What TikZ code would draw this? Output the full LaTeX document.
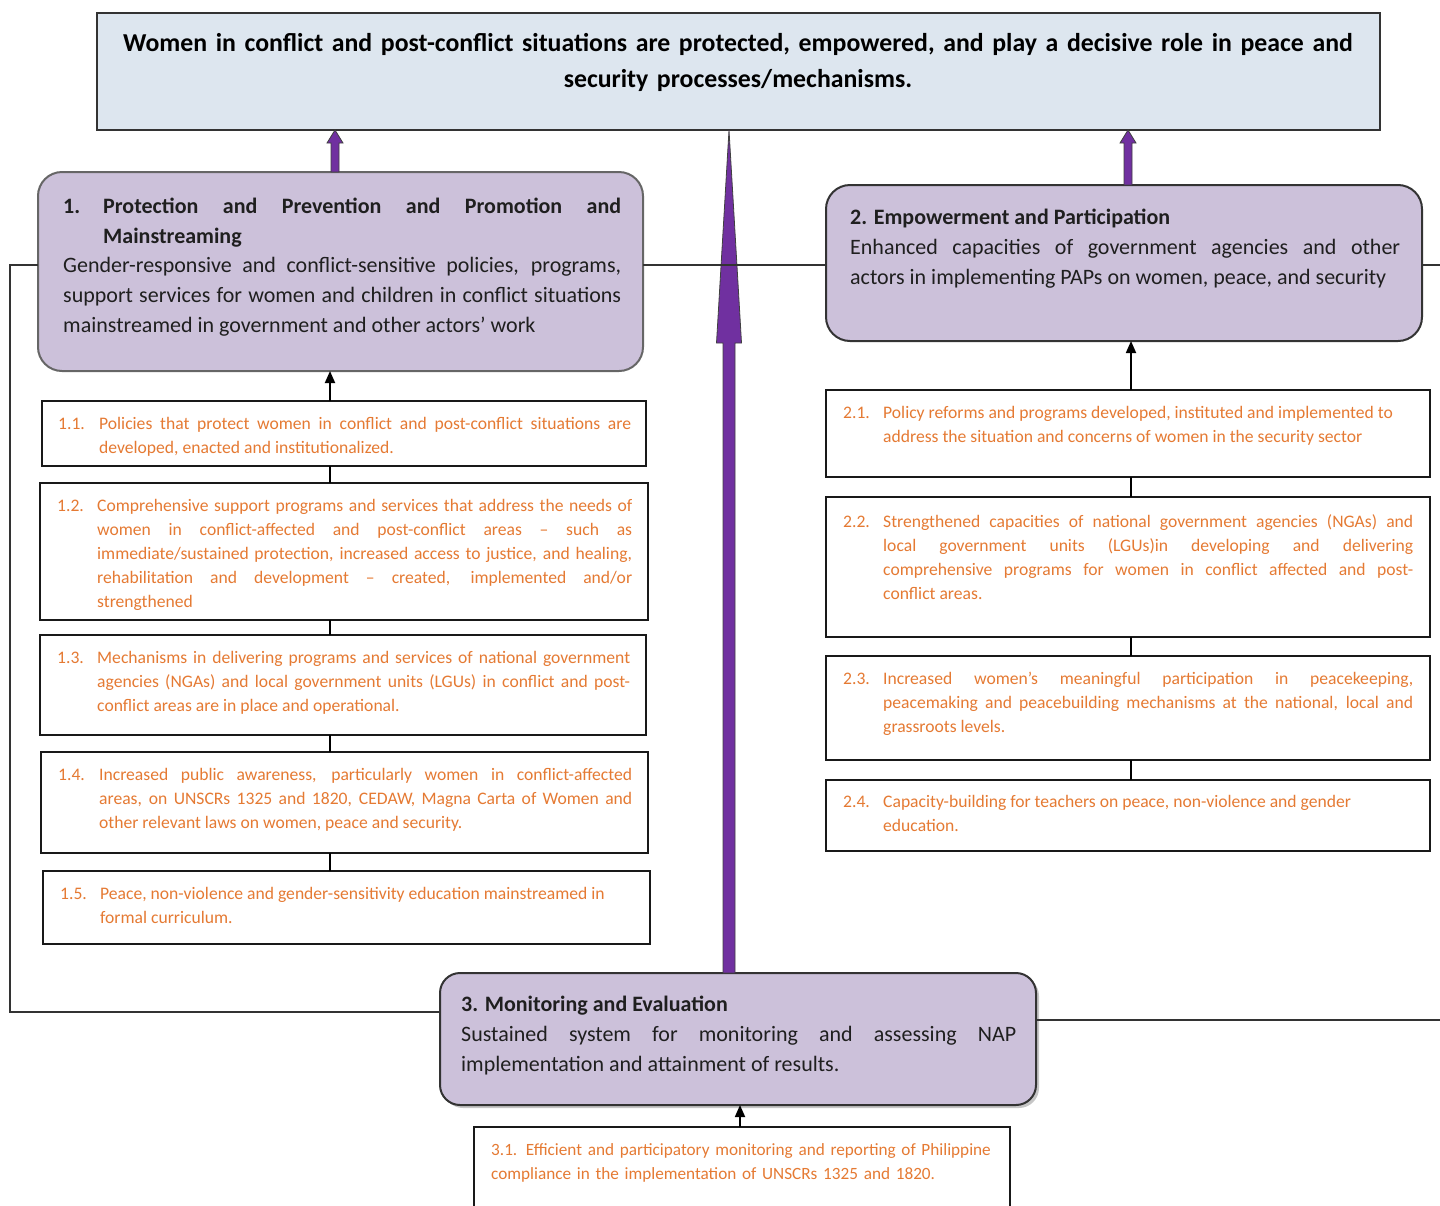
\documentclass[tikz,border=0pt]{standalone}
\usepackage{fontspec}
\setmainfont{Carlito}
\usetikzlibrary{calc,arrows.meta,shadows}
\definecolor{titlefill}{HTML}{DDE6EF}
\definecolor{lav}{HTML}{CCC1DA}
\definecolor{orng}{HTML}{E57A33}
\definecolor{purp}{HTML}{7030A0}
\definecolor{edge}{HTML}{333333}
\newcommand\hangitem[4]{\makebox[#2pt][l]{#1}\parbox[t]{#3pt}{#4}}
\newcommand\purplearrow[5]{\filldraw[fatarr] ($(#1)+(-#3,0)$) -- ($(#2)+(-#3,#5)$) -- ($(#2)+(-#4,#5)$) -- (#2) -- ($(#2)+(#4,#5)$) -- ($(#2)+(#3,#5)$) -- ($(#1)+(#3,0)$) -- cycle;}
\tikzset{
  titlebox/.style={draw=edge, line width=2pt, fill=titlefill, anchor=north west, inner sep=0pt, outer sep=0pt},
  goalbox/.style={draw=edge, line width=2pt, fill=lav, rounded corners=24pt, anchor=north west, inner sep=0pt, outer sep=0pt},
  subbox/.style={draw=black!90, line width=2.6pt, fill=white, anchor=north west, inner sep=0pt, outer sep=0pt},
  maintext/.style={anchor=base west, inner sep=0pt, align=justify, text=black!88, font=\fontsize{22}{30}\selectfont},
  subtext/.style={anchor=base west, inner sep=0pt, text=orng, font=\fontsize{17.6}{24.2}\selectfont},
  fatarr/.style={fill=purp, draw=black!75, line width=0.8pt},
  thinarrow/.style={draw=black, line width=1.8pt, -{Triangle[length=12pt,width=10pt]}},
  link/.style={draw=black, line width=2pt},
  loopline/.style={draw=edge, line width=2pt},
}
\begin{document}
\begin{tikzpicture}[x=1pt,y=-1pt]
\useasboundingbox (0,0) rectangle (1440,1205);
% boxes
\node[titlebox, minimum width=1283pt, minimum height=117pt] (t) at (97,13) {};
\node[goalbox, draw=black!60, minimum width=605pt, minimum height=199pt] (b1) at (38,172) {};
\node[goalbox, minimum width=596pt, minimum height=156pt] (b2) at (826,185) {};
\node[goalbox, rounded corners=20pt, drop shadow={shadow xshift=3pt, shadow yshift=-3pt, opacity=0.45}, minimum width=596pt, minimum height=132pt] (b3) at (440,973) {};
\node[subbox, minimum width=604pt, minimum height=65pt] (s11) at (42,401) {};
\node[subbox, minimum width=608pt, minimum height=137pt] (s12) at (40,483) {};
\node[subbox, minimum width=606pt, minimum height=100pt] (s13) at (40,635) {};
\node[subbox, minimum width=607pt, minimum height=101pt] (s14) at (41,752) {};
\node[subbox, minimum width=607pt, minimum height=73pt] (s15) at (43,871) {};
\node[subbox, minimum width=604pt, minimum height=87pt] (s21) at (826,390) {};
\node[subbox, minimum width=604pt, minimum height=140pt] (s22) at (826,497) {};
\node[subbox, minimum width=604pt, minimum height=104pt] (s23) at (826,656) {};
\node[subbox, minimum width=604pt, minimum height=71pt] (s24) at (826,780) {};
\node[subbox, minimum width=536pt, minimum height=95pt] (s31) at (474,1127) {};
% texts
\node[anchor=base, inner sep=0pt, text width=1320pt, align=center, text=black, font=\bfseries\fontsize{25.8}{36}\selectfont] (tt) at (738,51)
  {Women in conflict and post-conflict situations are protected, empowered, and play a decisive role in peace and\\ security processes/mechanisms.};
\node[maintext, text width=558pt] (b1t) at (63,213)
  {\hangitem{\bfseries 1.}{40}{518}{\bfseries Protection and Prevention and Promotion and\linebreak Mainstreaming}\par\prevdepth=4.6pt
   Gender-responsive and conflict-sensitive policies, programs,\linebreak support services for women and children in conflict situations\linebreak mainstreamed in government and other actors’ work};
\node[maintext, text width=550pt] (b2t) at (850,224)
  {{\bfseries 2. Empowerment and Participation\par}
   Enhanced capacities of government agencies and other\linebreak actors in implementing PAPs on women, peace, and security};
\node[maintext, text width=555pt] (b3t) at (461,1011)
  {{\bfseries 3. Monitoring and Evaluation\par}
   Sustained system for monitoring and assessing NAP\linebreak implementation and attainment of results.};
\node[subtext] (s11t) at (58,429)
  {\hangitem{1.1.}{41}{532}{Policies that protect women in conflict and post-conflict situations are\linebreak developed, enacted and institutionalized.}};
\node[subtext] (s12t) at (57,511)
  {\hangitem{1.2.}{40}{535}{Comprehensive support programs and services that address the needs of\linebreak women in conflict-affected and post-conflict areas -- such as\linebreak immediate/sustained protection, increased access to justice, and healing,\linebreak rehabilitation and development -- created, implemented and/or\linebreak strengthened}};
\node[subtext] (s13t) at (57,663)
  {\hangitem{1.3.}{40}{533}{Mechanisms in delivering programs and services of national government\linebreak agencies (NGAs) and local government units (LGUs) in conflict and post-\linebreak conflict areas are in place and operational.}};
\node[subtext] (s14t) at (58,780)
  {\hangitem{1.4.}{41}{533}{Increased public awareness, particularly women in conflict-affected\linebreak areas, on UNSCRs 1325 and 1820, CEDAW, Magna Carta of Women and\linebreak other relevant laws on women, peace and security.}};
\node[subtext] (s15t) at (60,899)
  {\hangitem{1.5.}{40}{540}{Peace, non-violence and gender-sensitivity education mainstreamed in\\ formal curriculum.}};
\node[subtext] (s21t) at (843,418)
  {\hangitem{2.1.}{40}{532}{Policy reforms and programs developed, instituted and implemented to\\ address the situation and concerns of women in the security sector}};
\node[subtext] (s22t) at (843,527)
  {\hangitem{2.2.}{40}{530}{Strengthened capacities of national government agencies (NGAs) and\linebreak local government units (LGUs)in developing and delivering\linebreak comprehensive programs for women in conflict affected and post-\linebreak conflict areas.}};
\node[subtext] (s23t) at (843,684)
  {\hangitem{2.3.}{40}{530}{Increased women’s meaningful participation in peacekeeping,\linebreak peacemaking and peacebuilding mechanisms at the national, local and\linebreak grassroots levels.}};
\node[subtext] (s24t) at (843,807)
  {\hangitem{2.4.}{40}{532}{Capacity-building for teachers on peace, non-violence and gender\\ education.}};
\node[subtext, font=\fontsize{17.2}{24.2}\selectfont, text width=510pt, align=left] (s31t) at (491,1155)
  {3.1. Efficient and participatory monitoring and reporting of Philippine\\ compliance in the implementation of UNSCRs 1325 and 1820.};
% purple arrows
\coordinate (m0) at (729,0);
\coordinate (m1) at (335,0);
\coordinate (m2) at (1128,0);
\path (b3.north -| m0) coordinate (a0b) (t.south -| m0) coordinate (a0t);
\path (b1.north -| m1) coordinate (a1b) (t.south -| m1) coordinate (a1t);
\path (b2.north -| m2) coordinate (a2b) (t.south -| m2) coordinate (a2t);
\purplearrow{a0b}{a0t}{6}{12.5}{213}
\purplearrow{a1b}{a1t}{4}{8}{13}
\purplearrow{a2b}{a2t}{4}{8}{13}
% loop lines
\coordinate (lc1) at (10,265);
\coordinate (lc2) at (10,1012);
\coordinate (re1) at (1440,265);
\coordinate (re2) at (1440,1020);
\draw[loopline] (b1.west |- lc1) -- (lc1) -- (lc2) -- (b3.west |- lc2);
\draw[loopline] (b1.east |- lc1) -- (b2.west |- lc1);
\draw[loopline] (b2.east |- re1) -- (re1);
\draw[loopline] (b3.east |- re2) -- (re2);
% thin arrows and links
\coordinate (lx) at (330,0);
\coordinate (rx) at (1131,0);
\coordinate (cx) at (740,0);
\draw[thinarrow] (s11.north -| lx) -- (b1.south -| lx);
\draw[thinarrow] (s21.north -| rx) -- (b2.south -| rx);
\draw[thinarrow] (s31.north -| cx) -- (b3.south -| cx);
\draw[link] (s11.south -| lx) -- (s12.north -| lx);
\draw[link] (s12.south -| lx) -- (s13.north -| lx);
\draw[link] (s13.south -| lx) -- (s14.north -| lx);
\draw[link] (s14.south -| lx) -- (s15.north -| lx);
\draw[link] (s21.south -| rx) -- (s22.north -| rx);
\draw[link] (s22.south -| rx) -- (s23.north -| rx);
\draw[link] (s23.south -| rx) -- (s24.north -| rx);
\end{tikzpicture}
\end{document}
